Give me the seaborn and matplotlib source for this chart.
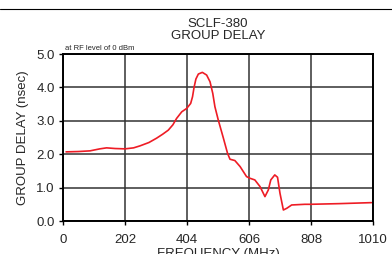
import numpy as np
import pandas as pd
import matplotlib.pyplot as plt
import seaborn as sns
from matplotlib.lines import Line2D

# Group delay curve
freq_mhz = [10, 50, 88, 120, 142, 170, 202, 230, 251, 280, 305, 325, 343, 358,
            370, 387, 403, 416, 422, 427, 433, 441, 454, 468, 479, 488, 495, 506,
            522, 536, 544, 560, 577, 598, 609, 625, 642, 658, 669, 677, 690,
            699, 707, 718, 729, 745, 788, 805, 900, 1005]
delay_ns = [2.07, 2.08, 2.10, 2.16, 2.19, 2.17, 2.16, 2.19, 2.25, 2.35, 2.48, 2.60,
            2.72, 2.88, 3.07, 3.27, 3.37, 3.52, 3.72, 4.00, 4.25, 4.40, 4.45, 4.37,
            4.17, 3.82, 3.42, 3.02, 2.50, 2.03, 1.85, 1.81, 1.63, 1.33, 1.28,
            1.23, 1.03, 0.73, 0.93, 1.23, 1.38, 1.31, 0.83, 0.33, 0.38, 0.48,
            0.50, 0.50, 0.52, 0.55]

x_ticks = [0, 202, 404, 606, 808, 1010]
y_ticks = [0.0, 1.0, 2.0, 3.0, 4.0, 5.0]

df = pd.DataFrame({'freq': freq_mhz, 'delay': delay_ns})

sns.set_style('white')
plt.rcParams['font.family'] = ['Liberation Sans', 'DejaVu Sans']

fig = plt.figure(figsize=(3.92, 2.54), dpi=100)
ax = fig.add_axes([0.1607, 0.1299, 0.7908, 0.6575])

sns.lineplot(data=df, x='freq', y='delay', ax=ax, color='#ee1c25', linewidth=1.2)

ax.set_xlim(0, 1010)
ax.set_ylim(0, 5)
ax.set_xticks(x_ticks)
ax.set_xticklabels([str(t) for t in x_ticks])
ax.set_yticks(y_ticks)
ax.set_yticklabels([f'{t:.1f}' for t in y_ticks])
ax.tick_params(axis='both', labelsize=9.5, length=3, width=1, color='black',
               direction='out', bottom=True, left=True)
ax.tick_params(axis='x', pad=6)
ax.tick_params(axis='y', pad=3)
ax.grid(True, color='#333333', linewidth=1.1)
for s in ax.spines.values():
    s.set_color('black')
    s.set_linewidth(1.4)

ax.set_xlabel('FREQUENCY (MHz)', fontsize=9.5, labelpad=2)
ax.set_ylabel('GROUP DELAY (nsec)', fontsize=9.5, labelpad=5)
ax.set_title('SCLF-380\nGROUP DELAY', fontsize=9.5, linespacing=1.0, pad=11)
ax.text(0.005, 1.012, 'at RF level of 0 dBm', transform=ax.transAxes,
        fontsize=5.5, va='bottom', ha='left')

# header rule across the page
fig.add_artist(Line2D([0, 1], [1 - 9 / 254, 1 - 9 / 254], color='black',
                      linewidth=0.8, transform=fig.transFigure))

fig.savefig('out.png', dpi=100)
